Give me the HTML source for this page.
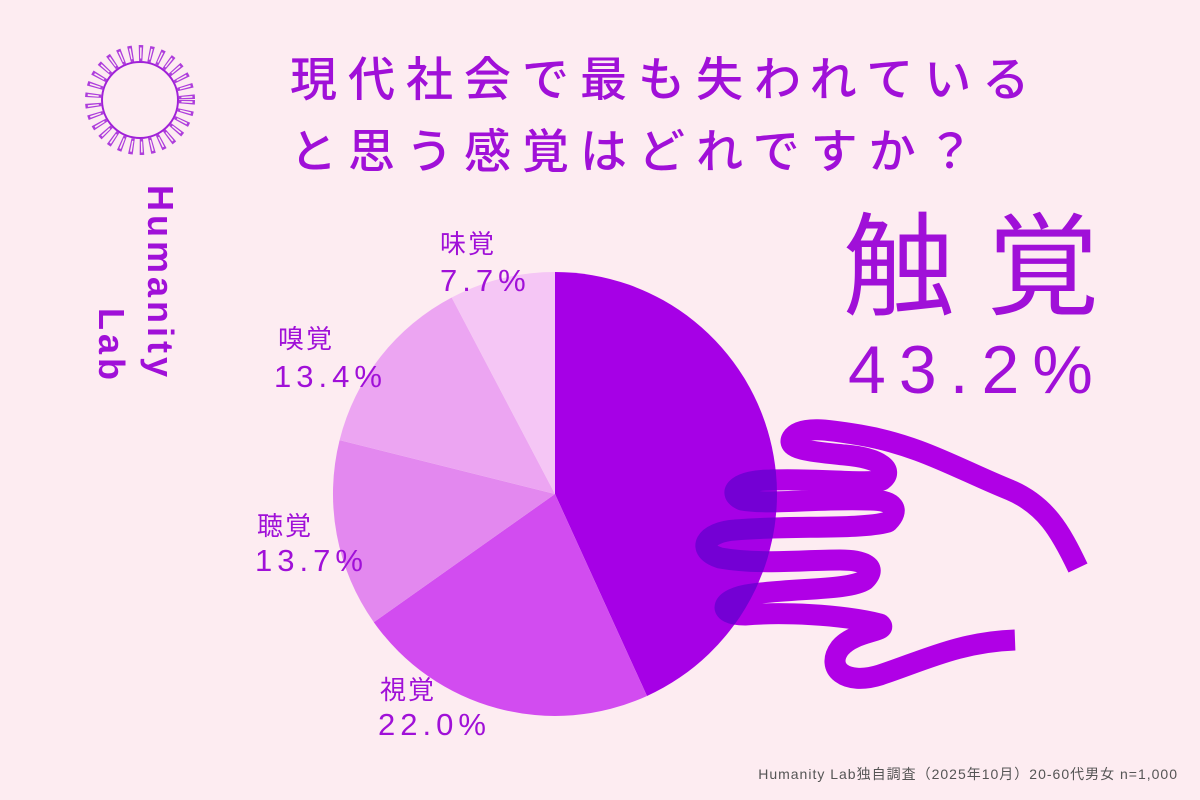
<!DOCTYPE html>
<html><head><meta charset="utf-8"><style>
html,body{margin:0;padding:0}
body{width:1200px;height:800px;background:#fdecf1;position:relative;overflow:hidden;font-family:"Liberation Sans","Noto Sans CJK JP",sans-serif;color:#a010d8}
.t{position:absolute;white-space:nowrap;line-height:1}
</style></head><body>
<svg width="1200" height="800" style="position:absolute;left:0;top:0">
  <defs><clipPath id="pc"><circle cx="555" cy="494" r="222"/></clipPath></defs>
  <g fill="none" stroke="#a020d8" stroke-width="2">
    <circle cx="140" cy="100" r="38"/>
    <circle cx="140" cy="100" r="47" stroke-width="16" stroke-dasharray="4 6" opacity="0.85"/>
    <circle cx="140" cy="100" r="47" stroke="#fdecf1" stroke-width="11" stroke-dasharray="1.5 8.5" stroke-dashoffset="-1.2"/>
  </g>
  <path d="M555,494 L555,272 A222,222 0 0 1 647,696 Z" fill="#a600e6"/>
  <path d="M555,494 L647,696 A222,222 0 0 1 373.8,622.2 Z" fill="#d24cf0"/>
  <path d="M555,494 L373.8,622.2 A222,222 0 0 1 339.6,440.1 Z" fill="#e388ef"/>
  <path d="M555,494 L339.6,440.1 A222,222 0 0 1 451.7,297.5 Z" fill="#eca5f2"/>
  <path d="M555,494 L451.7,297.5 A222,222 0 0 1 555,272 Z" fill="#f5c6f5"/>
  <path fill="none" stroke="#b000e6" stroke-width="21" stroke-linejoin="round"
   d="M1015,640 C960,642 925,660 880,675 C845,686 825,668 840,648 C855,630 890,632 880,624 C840,614 780,612 745,615 C715,615 720,598 752,594 C800,588 850,590 865,580 C880,565 860,560 840,560 C800,560 760,565 720,558 C695,550 705,532 735,530 C790,525 860,530 888,522 C900,510 895,500 870,500 C820,498 770,505 742,500 C725,492 740,480 770,480 C820,478 870,485 882,480 C895,470 880,458 845,455 C815,452 785,450 792,438 C800,425 830,430 860,435 C920,445 960,470 1010,490 C1045,505 1060,530 1078,568"/>
  <g clip-path="url(#pc)">
  <path fill="none" stroke="#7400d4" stroke-width="21" stroke-linejoin="round"
   d="M1015,640 C960,642 925,660 880,675 C845,686 825,668 840,648 C855,630 890,632 880,624 C840,614 780,612 745,615 C715,615 720,598 752,594 C800,588 850,590 865,580 C880,565 860,560 840,560 C800,560 760,565 720,558 C695,550 705,532 735,530 C790,525 860,530 888,522 C900,510 895,500 870,500 C820,498 770,505 742,500 C725,492 740,480 770,480 C820,478 870,485 882,480 C895,470 880,458 845,455 C815,452 785,450 792,438 C800,425 830,430 860,435 C920,445 960,470 1010,490 C1045,505 1060,530 1078,568"/>
  </g>
</svg>
<div class="t" style="left:290px;top:56px;font-size:47px;font-weight:500;letter-spacing:11px">現代社会で最も失われている</div>
<div class="t" style="left:290px;top:128px;font-size:47px;font-weight:500;letter-spacing:11px">と思う感覚はどれですか？</div>
<div class="t" style="left:843px;top:212px;font-size:112px;letter-spacing:32px">触覚</div>
<div class="t" style="left:848px;top:336px;font-size:68px;letter-spacing:13px">43.2%</div>
<div class="t" style="left:440px;top:231px;font-size:26px;letter-spacing:2px">味覚</div>
<div class="t" style="left:440px;top:265px;font-size:31px;letter-spacing:5px">7.7%</div>
<div class="t" style="left:278px;top:326px;font-size:26px;letter-spacing:2px">嗅覚</div>
<div class="t" style="left:274px;top:361px;font-size:31px;letter-spacing:5px">13.4%</div>
<div class="t" style="left:257px;top:513px;font-size:26px;letter-spacing:2px">聴覚</div>
<div class="t" style="left:255px;top:545px;font-size:31px;letter-spacing:5px">13.7%</div>
<div class="t" style="left:380px;top:677px;font-size:26px;letter-spacing:2px">視覚</div>
<div class="t" style="left:378px;top:709px;font-size:31px;letter-spacing:5px">22.0%</div>
<div class="t" style="left:142px;top:185px;font-size:36px;font-weight:bold;letter-spacing:4px;writing-mode:vertical-rl;text-orientation:sideways">Humanity</div>
<div class="t" style="left:93px;top:308px;font-size:36px;font-weight:bold;letter-spacing:4px;writing-mode:vertical-rl;text-orientation:sideways">Lab</div>
<div class="t" style="right:22px;top:767px;font-size:14px;color:#555;letter-spacing:1px">Humanity Lab独自調査（2025年10月）20-60代男女  n=1,000</div>
</body></html>
